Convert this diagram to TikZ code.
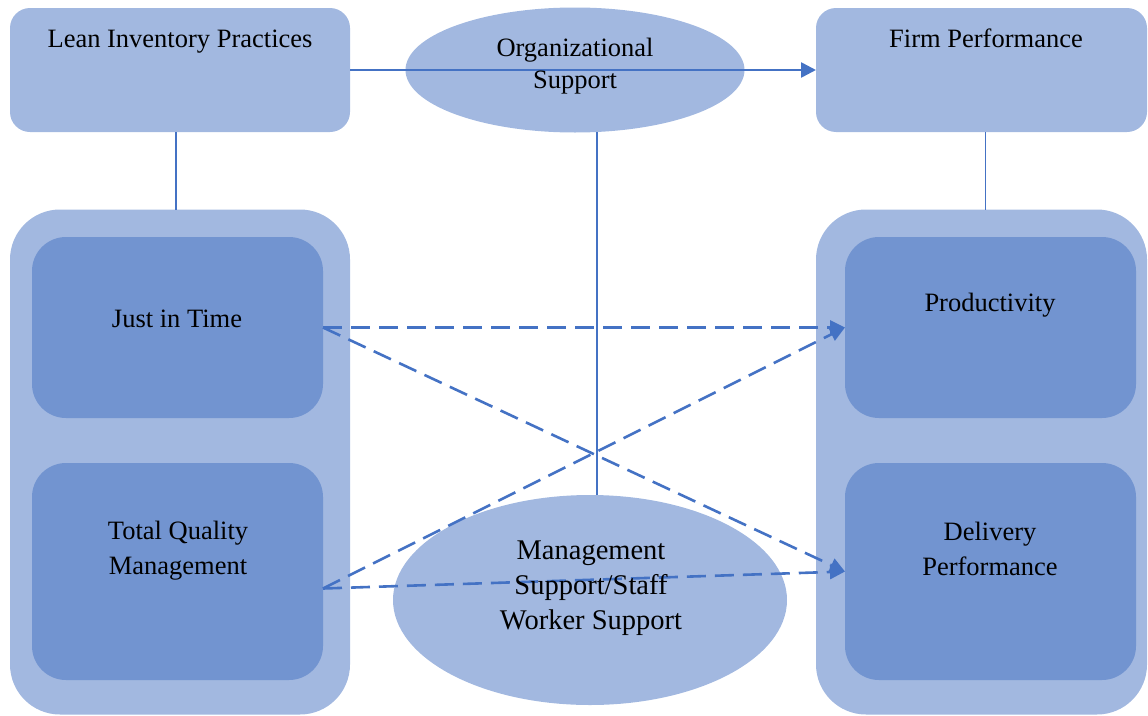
\documentclass[tikz,border=0pt]{standalone}
\usepackage{fontspec}
\setmainfont{Liberation Serif}
\usetikzlibrary{arrows.meta,shapes.geometric}
\definecolor{paleblue}{HTML}{A2B8E0}
\definecolor{midblue}{HTML}{7294D0}
\definecolor{linkblue}{HTML}{4472C4}
\tikzset{
  panel/.style={draw=none, fill=paleblue, rectangle, inner sep=0pt, outer sep=0pt},
  subpanel/.style={draw=none, fill=midblue, rectangle, rounded corners=34pt, inner sep=0pt, outer sep=0pt,
    minimum width=291pt, minimum height=#1},
  bubble/.style={draw=none, fill=paleblue, ellipse, inner sep=0pt, outer sep=0pt},
  lbl/.style={font=\fontsize{26.5}{35}\selectfont, align=center, inner sep=0pt},
  mainlink/.style={linkblue, line width=2.6pt, -{Triangle[length=15pt,width=15pt]}},
  thinlink/.style={linkblue, line width=1.2pt},
  dashlink/.style={linkblue, line width=2.6pt, dash pattern=on 19pt off 9pt,
    -{Triangle[length=15pt,width=14pt]}}
}
\begin{document}
\begin{tikzpicture}[x=1pt,y=-1pt]
\useasboundingbox (0,0) rectangle (1148,715);

% header boxes and the moderating ellipse
\node[panel, rounded corners=20pt, minimum width=340pt, minimum height=124pt] (lean) at (180,70) {};
\node[panel, rounded corners=20pt, minimum width=331pt, minimum height=124pt] (firm) at (981.5,70) {};
\node[bubble, minimum width=339pt, minimum height=125pt] (org) at (575,70) {};

% construct groups
\node[panel, rounded corners=50pt, minimum width=340pt, minimum height=505pt] (leftgrp) at (180,462) {};
\node[panel, rounded corners=50pt, minimum width=331pt, minimum height=505pt] (rightgrp) at (981.5,462) {};

\node[subpanel=181pt] (jit) at (177.5,327.5) {};
\node[subpanel=217pt] (tqm) at (177.5,571.5) {};
\node[subpanel=181pt] (prod) at (990.5,327.5) {};
\node[subpanel=217pt] (deliv) at (990.5,571.5) {};

% connectors
\draw[mainlink] (lean.east) -- (firm.west);
\draw[thinlink] ([xshift=-4pt]lean.south) -- ([xshift=-4pt]leftgrp.north);
\draw[thinlink] ([xshift=4pt]firm.south) -- ([xshift=4pt]rightgrp.north);

\node[bubble, minimum width=394pt, minimum height=210pt] (mgmt) at (590,600) {};
\draw[thinlink] ([xshift=22pt,yshift=0.5pt]org.south) -- ([xshift=7pt]mgmt.north);

\draw[dashlink] (jit.east) -- (prod.west);
\draw[dashlink] (jit.east) -- (deliv.west);
\draw[dashlink] ([yshift=-17pt]tqm.east) -- (prod.west);
\draw[dashlink] ([yshift=-17pt]tqm.east) -- (deliv.west);

% labels
\node[lbl, anchor=base] (leanT) at (180,47) {Lean Inventory Practices};
\node[lbl, anchor=base] (firmT) at (986,47) {Firm Performance};
\node[lbl, font=\fontsize{26.5}{32}\selectfont] (orgT) at (575,66) {Organizational\\Support};
\node[lbl, anchor=base] (jitT) at (177,327) {Just in Time};
\node[lbl, anchor=base] (prodT) at (990,311) {Productivity};
\node[lbl] (tqmT) at (178,551) {Total Quality\\Management};
\node[lbl] (delivT) at (990,549) {Delivery\\Performance};
\node[lbl, font=\fontsize{28.5}{35}\selectfont] (mgmtT) at (591,588)
  {Management\\Support/Staff\\Worker Support};
\end{tikzpicture}
\end{document}
